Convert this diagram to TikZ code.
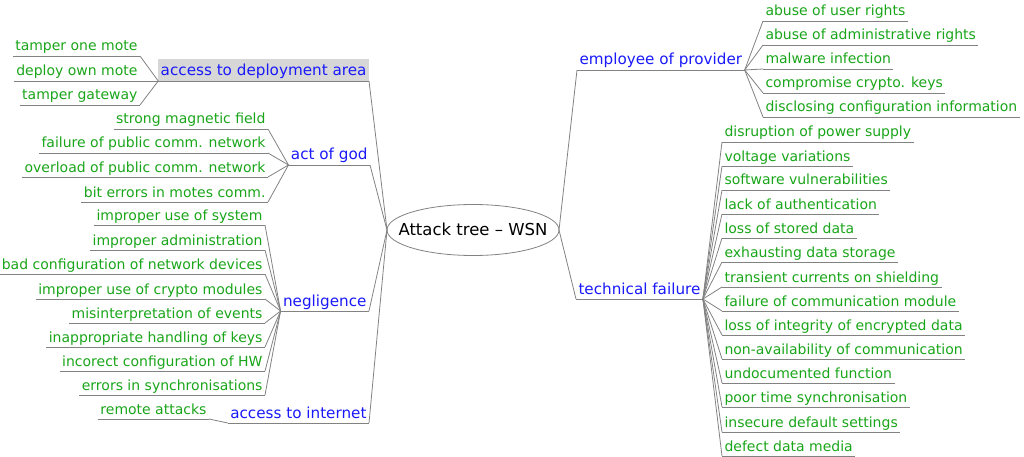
\documentclass[tikz,border=0pt]{standalone}
\usepackage{fontspec}
\setmainfont{DejaVu Sans}
\usetikzlibrary{shapes.geometric}
\definecolor{lf}{RGB}{25,165,25}
\definecolor{br}{RGB}{25,25,250}
\definecolor{ln}{RGB}{130,130,130}
\definecolor{hl}{RGB}{215,215,215}
\begin{document}
\begin{tikzpicture}[x=1pt,y=-1pt,
  lnk/.style={draw=ln, line width=0.8pt},
  base/.style={text height=11pt, text depth=3.5pt, inner xsep=2.5pt, inner ysep=1.5pt, outer sep=0pt},
  leaf/.style={base, font=\fontsize{14}{16}\selectfont, text=lf},
  cat/.style={base, font=\fontsize{15.2}{17}\selectfont, text=br},
  lleaf/.style={leaf, anchor=south east},
  rleaf/.style={leaf, anchor=south west},
  lcat/.style={cat, anchor=south east},
  rcat/.style={cat, anchor=south west},
  rootnode/.style={ellipse, draw=ln, line width=0.8pt, minimum width=172pt, minimum height=51pt, inner sep=0pt, outer sep=0pt, font=\fontsize{16.5}{19}\selectfont, text=black}
]
\useasboundingbox (0,0) rectangle (1024,457);

% root
\node[rootnode] (root) at (473,230) {\raisebox{-0.36em}[0pt][0pt]{\makebox[0pt]{Attack tree – WSN}}};

% left categories
\node[lcat, fill=hl, text height=15.5pt] (adp) at (369,81) {access to deployment area};
\node[lcat] (aog) at (370,165) {act of god};
\node[lcat] (neg) at (369,311) {negligence};
\node[lcat] (ati) at (369,423) {access to internet};

% right categories
\node[rcat] (emp) at (577,70) {employee of provider};
\node[rcat] (tf) at (576,299) {technical failure};

% access to deployment area
\node[lleaf] (a1) at (140,56) {tamper one mote};
\node[lleaf] (a2) at (140,81) {deploy own mote};
\node[lleaf] (a3) at (140,105) {tamper gateway};

% act of god
\node[lleaf] (g1) at (268,129) {strong magnetic field};
\node[lleaf] (g2) at (268,153) {failure of public comm. network};
\node[lleaf] (g3) at (268,177) {overload of public comm. network};
\node[lleaf] (g4) at (268,202) {bit errors in motes comm.};

% negligence
\node[lleaf] (n1) at (265,225) {improper use of system};
\node[lleaf] (n2) at (265,250) {improper administration};
\node[lleaf] (n3) at (265,274) {bad configuration of network devices};
\node[lleaf] (n4) at (265,299) {improper use of crypto modules};
\node[lleaf] (n5) at (265,323) {misinterpretation of events};
\node[lleaf] (n6) at (265,347) {inappropriate handling of keys};
\node[lleaf] (n7) at (265,371) {incorect configuration of HW};
\node[lleaf] (n8) at (265,395) {errors in synchronisations};

% access to internet
\node[lleaf] (r1) at (209,419) {remote attacks};

% employee of provider
\node[rleaf] (e1) at (763,21) {abuse of user rights};
\node[rleaf] (e2) at (763,45) {abuse of administrative rights};
\node[rleaf] (e3) at (763,69) {malware infection};
\node[rleaf] (e4) at (763,93) {compromise crypto. keys};
\node[rleaf] (e5) at (763,117) {disclosing configuration information};

% technical failure
\node[rleaf] (t1) at (722,142) {disruption of power supply};
\node[rleaf] (t2) at (722,166) {voltage variations};
\node[rleaf] (t3) at (722,190) {software vulnerabilities};
\node[rleaf] (t4) at (722,214) {lack of authentication};
\node[rleaf] (t5) at (722,238) {loss of stored data};
\node[rleaf] (t6) at (722,262) {exhausting data storage};
\node[rleaf] (t7) at (722,287) {transient currents on shielding};
\node[rleaf] (t8) at (722,311) {failure of communication module};
\node[rleaf] (t9) at (722,335) {loss of integrity of encrypted data};
\node[rleaf] (t10) at (722,359) {non-availability of communication};
\node[rleaf] (t11) at (722,383) {undocumented function};
\node[rleaf] (t12) at (722,407) {poor time synchronisation};
\node[rleaf] (t13) at (722,432) {insecure default settings};
\node[rleaf] (t14) at (722,456) {defect data media};

% underlines
\foreach \n in {adp,aog,neg,ati,emp,tf,a1,a2,a3,g1,g2,g3,g4,n1,n2,n3,n4,n5,n6,n7,n8,r1,e1,e2,e3,e4,e5,t1,t2,t3,t4,t5,t6,t7,t8,t9,t10,t11,t12,t13,t14}
  \draw[lnk] (\n.south west) -- (\n.south east);

% connectors
\foreach \n in {adp,aog,neg,ati} \draw[lnk] (root.west) -- (\n.south east);
\foreach \n in {emp,tf} \draw[lnk] (root.east) -- (\n.south west);
\foreach \n in {a1,a2,a3} \draw[lnk] (adp.south west) -- (\n.south east);
\foreach \n in {g1,g2,g3,g4} \draw[lnk] (aog.south west) -- (\n.south east);
\foreach \n in {n1,n2,n3,n4,n5,n6,n7,n8} \draw[lnk] (neg.south west) -- (\n.south east);
\draw[lnk] (ati.south west) -- (r1.south east);
\foreach \n in {e1,e2,e3,e4,e5} \draw[lnk] (emp.south east) -- (\n.south west);
\foreach \n in {t1,t2,t3,t4,t5,t6,t7,t8,t9,t10,t11,t12,t13,t14} \draw[lnk] (tf.south east) -- (\n.south west);
\end{tikzpicture}
\end{document}
